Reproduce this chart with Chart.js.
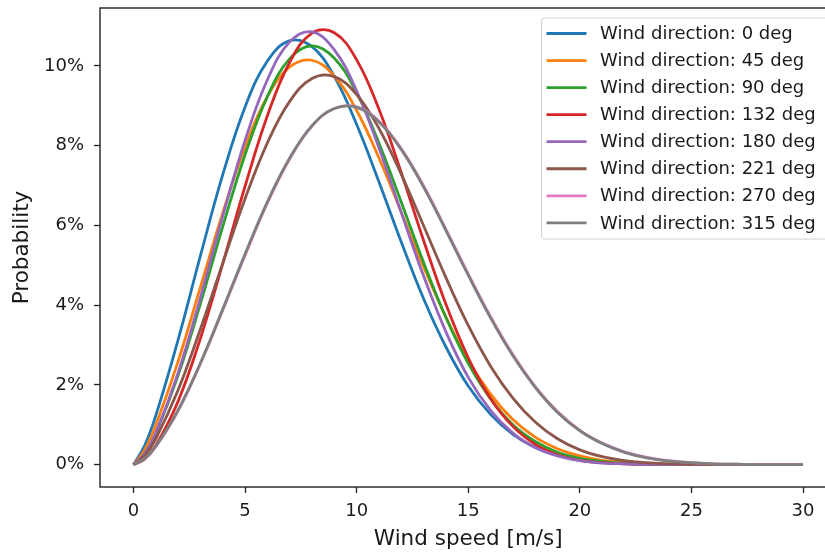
<!DOCTYPE html>
<html>
<head>
<meta charset="utf-8">
<script src="https://cdn.jsdelivr.net/npm/chart.js@4.4.0/dist/chart.umd.min.js"></script>
<style>
  html, body { margin: 0; padding: 0; background: #fff; overflow: hidden; }
  #wrap { width: 825px; height: 554px; overflow: hidden; position: relative; }
  #chart { position: absolute; left: 0; top: 0; }
</style>
</head>
<body>
<div id="wrap"><canvas id="chart" width="840" height="554"></canvas></div>
<script>
// wind speed [m/s]
const speeds = [0, 0.5, 1, 2, 3, 4, 5, 6, 7, 8, 9, 10, 11, 12, 13, 14, 15, 16, 17, 18, 19, 20,
  21, 22, 23, 24, 25, 26, 27, 28, 29, 30];

// probability [%] per wind direction
const dir0 = [0, 0.48, 1.23, 3.13, 5.24, 7.27, 8.97, 10.12, 10.63, 10.48, 9.73, 8.53, 7.09, 5.58, 4.16, 2.95, 1.97,
  1.26, 0.76, 0.43, 0.23, 0.12, 0.06, 0.03, 0.01, 0, 0, 0, 0, 0, 0, 0];
const dir45 = [0, 0.37, 0.99, 2.59, 4.45, 6.31, 7.96, 9.23, 9.97, 10.14, 9.74, 8.88, 7.69, 6.33, 4.96, 3.70, 2.62,
  1.77, 1.13, 0.69, 0.40, 0.22, 0.11, 0.06, 0.03, 0.01, 0.01, 0, 0, 0, 0, 0];
const dir90 = [0, 0.27, 0.78, 2.24, 4.04, 5.97, 7.77, 9.23, 10.18, 10.50, 10.19, 9.32, 8.06, 6.58, 5.07, 3.69, 2.54,
  1.65, 1.00, 0.58, 0.31, 0.16, 0.08, 0.03, 0.01, 0.01, 0, 0, 0, 0, 0, 0];
const dir132 = [0, 0.14, 0.48, 1.59, 3.17, 5.04, 6.98, 8.75, 10.09, 10.82, 10.83, 10.15, 8.91, 7.32, 5.62, 4.02, 2.68,
  1.66, 0.96, 0.51, 0.25, 0.11, 0.05, 0.02, 0.01, 0, 0, 0, 0, 0, 0, 0];
const dir180 = [0, 0.27, 0.79, 2.30, 4.19, 6.23, 8.13, 9.65, 10.60, 10.85, 10.40, 9.37, 7.94, 6.32, 4.73, 3.33, 2.19,
  1.36, 0.79, 0.43, 0.22, 0.10, 0.04, 0.02, 0.01, 0, 0, 0, 0, 0, 0, 0];
const dir221 = [0, 0.22, 0.65, 1.87, 3.40, 5.05, 6.67, 8.07, 9.11, 9.68, 9.73, 9.28, 8.43, 7.28, 5.99, 4.69, 3.49,
  2.47, 1.67, 1.07, 0.65, 0.37, 0.20, 0.10, 0.05, 0.02, 0.01, 0, 0, 0, 0, 0];
const dir270 = [0, 0.15, 0.45, 1.35, 2.53, 3.87, 5.25, 6.56, 7.67, 8.49, 8.93, 8.97, 8.61, 7.92, 6.99, 5.90, 4.78,
  3.71, 2.76, 1.96, 1.33, 0.86, 0.54, 0.32, 0.18, 0.10, 0.05, 0.02, 0.01, 0, 0, 0];
const dir315 = [0, 0.15, 0.46, 1.37, 2.55, 3.90, 5.28, 6.59, 7.69, 8.50, 8.93, 8.96, 8.59, 7.90, 6.96, 5.87, 4.75,
  3.68, 2.73, 1.94, 1.31, 0.85, 0.53, 0.31, 0.17, 0.09, 0.05, 0.02, 0.01, 0, 0, 0];

const labels = ["Wind direction: 0 deg", "Wind direction: 45 deg", "Wind direction: 90 deg",
  "Wind direction: 132 deg", "Wind direction: 180 deg", "Wind direction: 221 deg",
  "Wind direction: 270 deg", "Wind direction: 315 deg"];
const series = [dir0, dir45, dir90, dir132, dir180, dir221, dir270, dir315];
const colors = ["#1f77b4", "#ff7f0e", "#2ca02c", "#d62728", "#9467bd", "#8c564b", "#e377c2", "#7f7f7f"];

const xTicks = [0, 5, 10, 15, 20, 25, 30];
const yTicks = [0, 2, 4, 6, 8, 10];

const textColor = "#1a1a1a";
const family = "'DejaVu Sans', sans-serif";
const tickFont = { family: family, size: 18 };
const titleFont = { family: family, size: 21.5 };

//Frame round the plot area (top side included)
const frame = {
  id: "frame",
  afterDatasetsDraw(chart) {
    const { ctx, chartArea: a } = chart;
    ctx.save();
    ctx.strokeStyle = "#222";
    ctx.lineWidth = 1.4;
    ctx.strokeRect(a.left, a.top, a.right - a.left, a.bottom - a.top);
    ctx.restore();
  },
};

//matplotlib-like legend box in the upper right corner
const boxLegend = {
  id: "boxLegend",
  afterDraw(chart) {
    const ctx = chart.ctx;
    const x0 = 541.5, y0 = 18, w = 290, rowH = 27.05;
    const h = 221;
    ctx.save();
    ctx.beginPath();
    ctx.roundRect(x0, y0, w, h, 3);
    ctx.fillStyle = "rgba(255,255,255,0.8)";
    ctx.fill();
    ctx.strokeStyle = "#d0d0d0";
    ctx.lineWidth = 1;
    ctx.stroke();
    ctx.font = "18px " + family;
    ctx.textBaseline = "middle";
    chart.data.datasets.forEach((ds, i) => {
      const y = y0 + 15.5 + i * rowH;
      ctx.beginPath();
      ctx.moveTo(x0 + 5, y);
      ctx.lineTo(x0 + 45, y);
      ctx.strokeStyle = ds.borderColor;
      ctx.lineWidth = 2.8;
      ctx.stroke();
      ctx.fillStyle = textColor;
      ctx.fillText(ds.label, x0 + 58.5, y + 1);
    });
    ctx.restore();
  },
};

const ctx = document.getElementById("chart").getContext("2d");
const myChart = new Chart(ctx, {
  type: "line",
  data: {
    datasets: series.map((vals, i) => ({
      label: labels[i],
      data: speeds.map((s, j) => ({ x: s, y: vals[j] })),
      borderColor: colors[i],
      backgroundColor: colors[i],
      fill: false,
      order: series.length - i,
    })),
  },
  options: {
    responsive: false,
    animation: false,
    layout: { padding: { top: 8, right: 3.5, left: 0, bottom: 0 } },
    elements: {
      point: { radius: 0 },
      line: { borderWidth: 2.8, tension: 0.4 },
    },
    plugins: {
      legend: { display: false },
      tooltip: { enabled: false },
    },
    scales: {
      x: {
        type: "linear",
        min: -1.5,
        max: 31.5,
        afterBuildTicks: (s) => { s.ticks = xTicks.map((v) => ({ value: v })); },
        afterFit: (s) => { s.height = 67; s.paddingLeft = 0; s.paddingRight = 0; },
        grid: { drawOnChartArea: false, color: "#222", tickLength: 6, tickWidth: 1.3 },
        border: { display: false },
        ticks: { font: tickFont, color: textColor, padding: 8, maxRotation: 0 },
        title: {
          display: true,
          text: "Wind speed [m/s]",
          font: titleFont,
          color: textColor,
          padding: { top: 0, bottom: 2 },
        },
      },
      y: {
        type: "linear",
        min: -0.56,
        max: 11.45,
        afterBuildTicks: (s) => { s.ticks = yTicks.map((v) => ({ value: v })); },
        afterFit: (s) => { s.width = 100; s.paddingTop = 0; s.paddingBottom = 0; },
        grid: { drawOnChartArea: false, color: "#222", tickLength: 6, tickWidth: 1.3 },
        border: { display: false },
        ticks: {
          font: tickFont,
          color: textColor,
          padding: 10,
          callback: (v) => v + "%",
        },
        title: {
          display: true,
          text: "Probability",
          font: titleFont,
          color: textColor,
          padding: { top: 10, bottom: 0 },
        },
      },
    },
  },
  plugins: [frame, boxLegend],
});
</script>
</body>
</html>
